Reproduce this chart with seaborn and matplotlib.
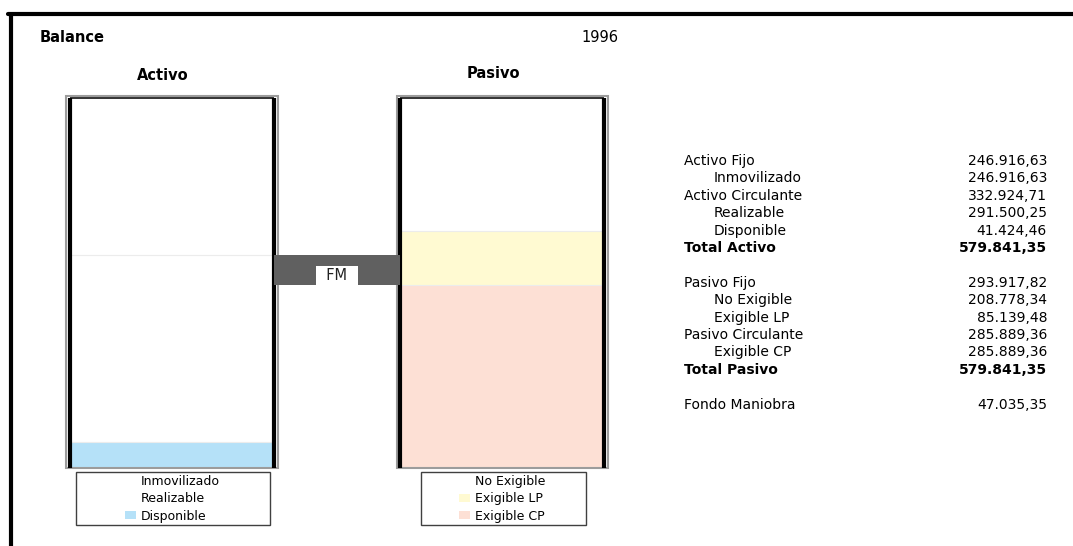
"""Balance 1996: activo / pasivo columns with the fondo de maniobra band."""

import matplotlib.pyplot as plt
import pandas as pd
import seaborn as sns
from matplotlib.legend import Legend
from matplotlib.lines import Line2D
from matplotlib.patches import Patch, Rectangle

sns.set_theme(style="white")
plt.rcParams["font.family"] = ["DejaVu Sans"]
plt.rcParams["text.color"] = "black"

W, H = 1073, 546

title = "Balance"
year = "1996"
sides = ["Activo", "Pasivo"]

# segments listed from top of the column to the bottom
activo_cats = ["Inmovilizado", "Realizable", "Disponible"]
activo_vals = [246916.63, 291500.25, 41424.46]
activo_colors = ["#ffffff", "#ffffff", "#b5e1f8"]

pasivo_cats = ["No Exigible", "Exigible LP", "Exigible CP"]
pasivo_vals = [208778.34, 85139.48, 285889.36]
pasivo_colors = ["#ffffff", "#fffad2", "#fde0d5"]

# summary table on the right ("" = blank line)
table_labels = ["Activo Fijo", "Inmovilizado", "Activo Circulante", "Realizable",
                "Disponible", "Total Activo", "",
                "Pasivo Fijo", "No Exigible", "Exigible LP", "Pasivo Circulante",
                "Exigible CP", "Total Pasivo", "",
                "Fondo Maniobra"]
table_values = [246916.63, 246916.63, 332924.71, 291500.25,
                41424.46, 579841.35, None,
                293917.82, 208778.34, 85139.48, 285889.36,
                285889.36, 579841.35, None,
                47035.35]
table_level = [0, 1, 0, 1, 1, 0, 0, 0, 1, 1, 0, 1, 0, 0, 0]

BAR_W = 204 / 330
FRAME_W = 211 / 330


def es_fmt(v):
    return f"{v:,.2f}".replace(",", "_").replace(".", ",").replace("_", ".")


def cum_from_top(vals):
    return [sum(vals[i:]) for i in range(len(vals))]


fig = plt.figure(figsize=(W / 100, H / 100), dpi=100)
ax = fig.add_axes([65 / W, 1 - 468 / H, 544 / W, 372 / H])

a_cum = cum_from_top(activo_vals)
p_cum = cum_from_top(pasivo_vals)
for k in range(len(activo_vals)):
    layer = pd.DataFrame({"lado": sides, "acum": [a_cum[k], p_cum[k]]})
    sns.barplot(
        data=layer, x="lado", y="acum", hue="lado",
        palette=dict(zip(sides, [activo_colors[k], pasivo_colors[k]])),
        width=BAR_W, saturation=1, errorbar=None, legend=False,
        edgecolor="#ececec", linewidth=0.8, ax=ax,
    )

totals = [a_cum[0], p_cum[0]]
for i, top in enumerate(totals):
    ax.add_patch(Rectangle((i - FRAME_W / 2, 0), FRAME_W, 1,
                           transform=ax.get_xaxis_transform(), fill=False,
                           ec="#9c9c9c", lw=1.5, clip_on=False, zorder=3))
    ax.vlines([i - BAR_W / 2, i + BAR_W / 2], 0, top, color="black", lw=3, zorder=4)
    ax.hlines(top, i - BAR_W / 2, i + BAR_W / 2, color="black", lw=1.1, zorder=4)

# fondo de maniobra = activo circulante - pasivo circulante
pasivo_circ = pasivo_vals[-1]
fm = a_cum[1] - pasivo_circ
ax.bar(0.5, fm, bottom=pasivo_circ, width=1 - BAR_W, color="#606060",
       edgecolor="none", linewidth=0, zorder=5, clip_on=False)
ax.annotate("  FM  ", xy=(0.5, pasivo_circ), xytext=(0, 2.5), textcoords="offset pixels",
            ha="center", va="bottom", fontsize=10.5, color="#222222", zorder=6,
            bbox=dict(boxstyle="square,pad=0.12", fc="white", ec="none"))

ax.set_xlim((65 - 172) / 330, (609 - 172) / 330)
ax.set_ylim(0, max(totals) * 372 / 370.5)
ax.set_axis_off()

legend_boxes = [(76, 194), (421, 165)]
for i, (cats, colors) in enumerate([(activo_cats, activo_colors),
                                    (pasivo_cats, pasivo_colors)]):
    handles = [Patch(facecolor=c, edgecolor="none") for c in colors]
    leg = Legend(ax, handles, cats, loc="upper center", bbox_to_anchor=(i, -0.018),
                 bbox_transform=ax.get_xaxis_transform(), frameon=False,
                 fontsize=9, handlelength=0.9, handleheight=0.65,
                 handletextpad=0.35, labelspacing=0.36, borderpad=0,
                 borderaxespad=0, labelcolor="black")
    ax.add_artist(leg)
    x0, bw = legend_boxes[i]
    fig.add_artist(Rectangle((x0 / W, 1 - 525 / H), bw / W, 53 / H,
                             transform=fig.transFigure, fill=False,
                             ec="#404040", lw=1))

# outer frame (top and left only)
fig.add_artist(Line2D([8 / W, 1], [1 - 14 / H] * 2, color="black", lw=3))
fig.add_artist(Line2D([10.5 / W] * 2, [1 - 14 / H, 0], color="black", lw=3))

fig.text(40 / W, 1 - 38 / H, title, fontsize=10.5, fontweight="bold", va="center")
fig.text(600 / W, 1 - 38 / H, year, fontsize=10.5, ha="center", va="center")
fig.text(163 / W, 1 - 76 / H, sides[0], fontsize=10.5, fontweight="bold",
         ha="center", va="center")
fig.text(493 / W, 1 - 74 / H, sides[1], fontsize=10.5, fontweight="bold",
         ha="center", va="center")

for r, (lab, val, lvl) in enumerate(zip(table_labels, table_values, table_level)):
    if not lab:
        continue
    y = 1 - (161 + 17.4 * r) / H
    weight = "bold" if lab.startswith("Total") else "normal"
    fig.text((684 + 30 * lvl) / W, y, lab, fontsize=10, fontweight=weight, va="center")
    fig.text(1047 / W, y, es_fmt(val), fontsize=10, fontweight=weight,
             ha="right", va="center")

fig.savefig("out.png", dpi=100)
